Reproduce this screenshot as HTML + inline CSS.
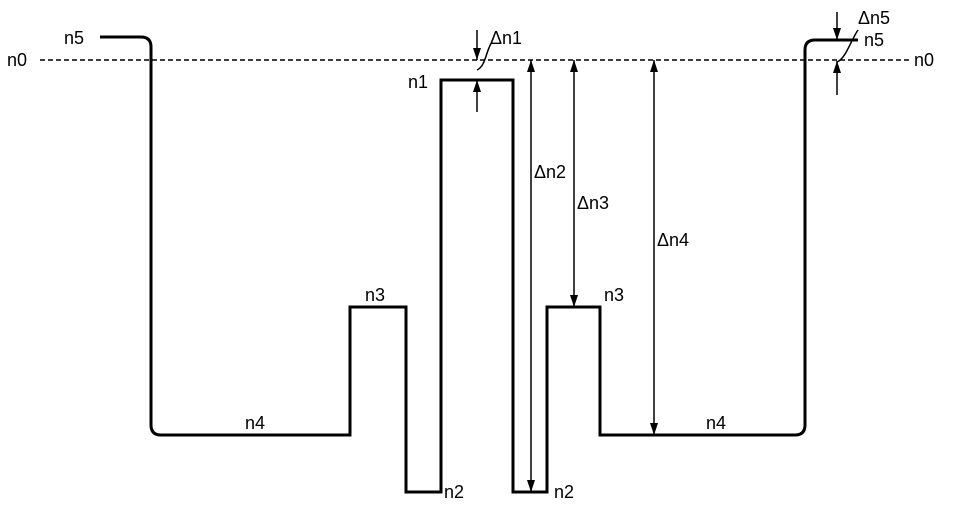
<!DOCTYPE html>
<html><head><style>
body{margin:0;background:#fff;}
svg{display:block;}
text{font-family:"Liberation Sans",Arial,sans-serif;font-size:18px;fill:#000;}
</style></head><body>
<svg width="961" height="507" viewBox="0 0 961 507" xmlns="http://www.w3.org/2000/svg">
<defs>
<marker id="a" markerWidth="12" markerHeight="8" refX="12" refY="4" orient="auto-start-reverse" markerUnits="userSpaceOnUse">
<path d="M0,0 L12,4 L0,8 Z" fill="#000"/>
</marker>
</defs>
<line x1="40" y1="60" x2="912" y2="60" stroke="#000" stroke-width="1.5" stroke-dasharray="5,3"/>
<path d="M100,37 H141 Q151,37 151,47 V425 Q151,435 161,435 H350 V307 H406 V492 H441 V80 H513 V492 H547 V307 H600 V435 H795 Q805,435 805,425 V50 Q805,40 815,40 H858" fill="none" stroke="#000" stroke-width="3"/>
<g stroke="#000" stroke-width="1.5" fill="none">
<line x1="477" y1="30" x2="477" y2="60" marker-end="url(#a)"/>
<line x1="477" y1="112" x2="477" y2="80" marker-end="url(#a)"/>
<line x1="837" y1="12" x2="837" y2="40" marker-end="url(#a)"/>
<line x1="837" y1="95" x2="837" y2="61" marker-end="url(#a)"/>
<line x1="531" y1="60" x2="531" y2="492" marker-start="url(#a)" marker-end="url(#a)"/>
<line x1="574" y1="60" x2="574" y2="307" marker-start="url(#a)" marker-end="url(#a)"/>
<line x1="654" y1="60" x2="654" y2="435" marker-start="url(#a)" marker-end="url(#a)"/>
<path d="M477,70 C486,66 486,50 492,42"/>
<path d="M837,62 C846,58 850,42 858,30" />
</g>
<text x="7" y="66">n0</text>
<text x="914" y="66">n0</text>
<text x="64" y="44">n5</text>
<text x="864" y="46">n5</text>
<text x="408" y="88">n1</text>
<text x="490" y="44">Δn1</text>
<text x="858" y="24">Δn5</text>
<text x="534" y="178">Δn2</text>
<text x="577" y="209">Δn3</text>
<text x="657" y="246">Δn4</text>
<text x="365" y="301">n3</text>
<text x="604" y="301">n3</text>
<text x="245" y="429">n4</text>
<text x="706" y="429">n4</text>
<text x="444" y="498">n2</text>
<text x="554" y="498">n2</text>
</svg>
</body></html>
